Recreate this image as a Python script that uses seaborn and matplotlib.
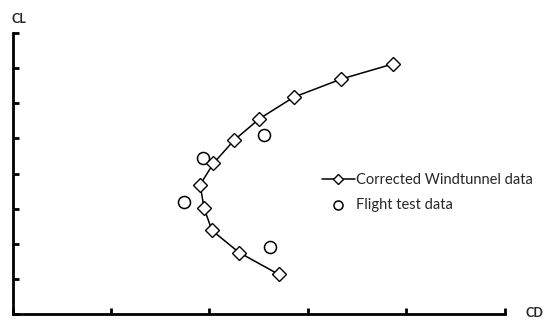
import matplotlib
matplotlib.use("Agg")
import matplotlib.pyplot as plt
import seaborn as sns
import pandas as pd

# Corrected wind-tunnel polar (CD, CL)
wt_cd = [3.868, 3.342, 2.856, 2.510, 2.253, 2.042, 1.907, 1.946, 2.027, 2.303, 2.704]
wt_cl = [7.12, 6.69, 6.17, 5.56, 4.95, 4.29, 3.68, 3.02, 2.38, 1.75, 1.13]
# Flight test points (CD, CL)
ft_cd = [2.556, 1.939, 1.742, 2.613]
ft_cl = [5.09, 4.45, 3.18, 1.91]

x_ticks = [0, 1, 2, 3, 4, 5]
y_ticks = [0, 1, 2, 3, 4, 5, 6, 7, 8]

sns.set_style("white")
plt.rcParams['font.family'] = ['Lato', 'DejaVu Sans']

fig = plt.figure(figsize=(5.44, 3.2), dpi=100)
ax = fig.add_axes([12.5/544, 6/320, 492/544, 281/320])

wt = pd.DataFrame({"CD": wt_cd, "CL": wt_cl})
ft = pd.DataFrame({"CD": ft_cd, "CL": ft_cl})

sns.lineplot(data=wt, x="CD", y="CL", sort=False, ax=ax, color="black",
             linewidth=1.1, marker="D", markersize=7, markerfacecolor="white",
             markeredgecolor="black", markeredgewidth=1.0,
             label="Corrected Windtunnel data", clip_on=False)
sns.scatterplot(data=ft, x="CD", y="CL", ax=ax, marker="o", s=75,
                facecolor="white", edgecolor="black", linewidth=1.1,
                label="Flight test data", clip_on=False)

ax.set_xlim(0, 5)
ax.set_ylim(0, 8)
ax.set_xticks(x_ticks)
ax.set_yticks(y_ticks)
ax.set_xticklabels([])
ax.set_yticklabels([])
ax.set_xlabel("")
ax.set_ylabel("")
for s in ["top", "right"]:
    ax.spines[s].set_visible(False)
for s in ["left", "bottom"]:
    ax.spines[s].set_linewidth(2.0)
    ax.spines[s].set_color("black")
ax.tick_params(direction="in", length=4, width=2.0, color="black",
               bottom=True, left=True)

leg = ax.legend(loc="upper left", bbox_to_anchor=(0.629, 0.501), frameon=False,
                fontsize=10.5, markerscale=0.75, handlelength=2.25,
                handletextpad=0.1, labelspacing=0.72, borderaxespad=0,
                borderpad=0)

fig.text(11/544, 1 - 19/320, "CL", fontsize=9, fontweight="bold",
         va="center", ha="left")
fig.text(525/544, 1 - 313/320, "CD", fontsize=9, fontweight="bold",
         va="center", ha="left")

fig.savefig("out.png", dpi=100)
